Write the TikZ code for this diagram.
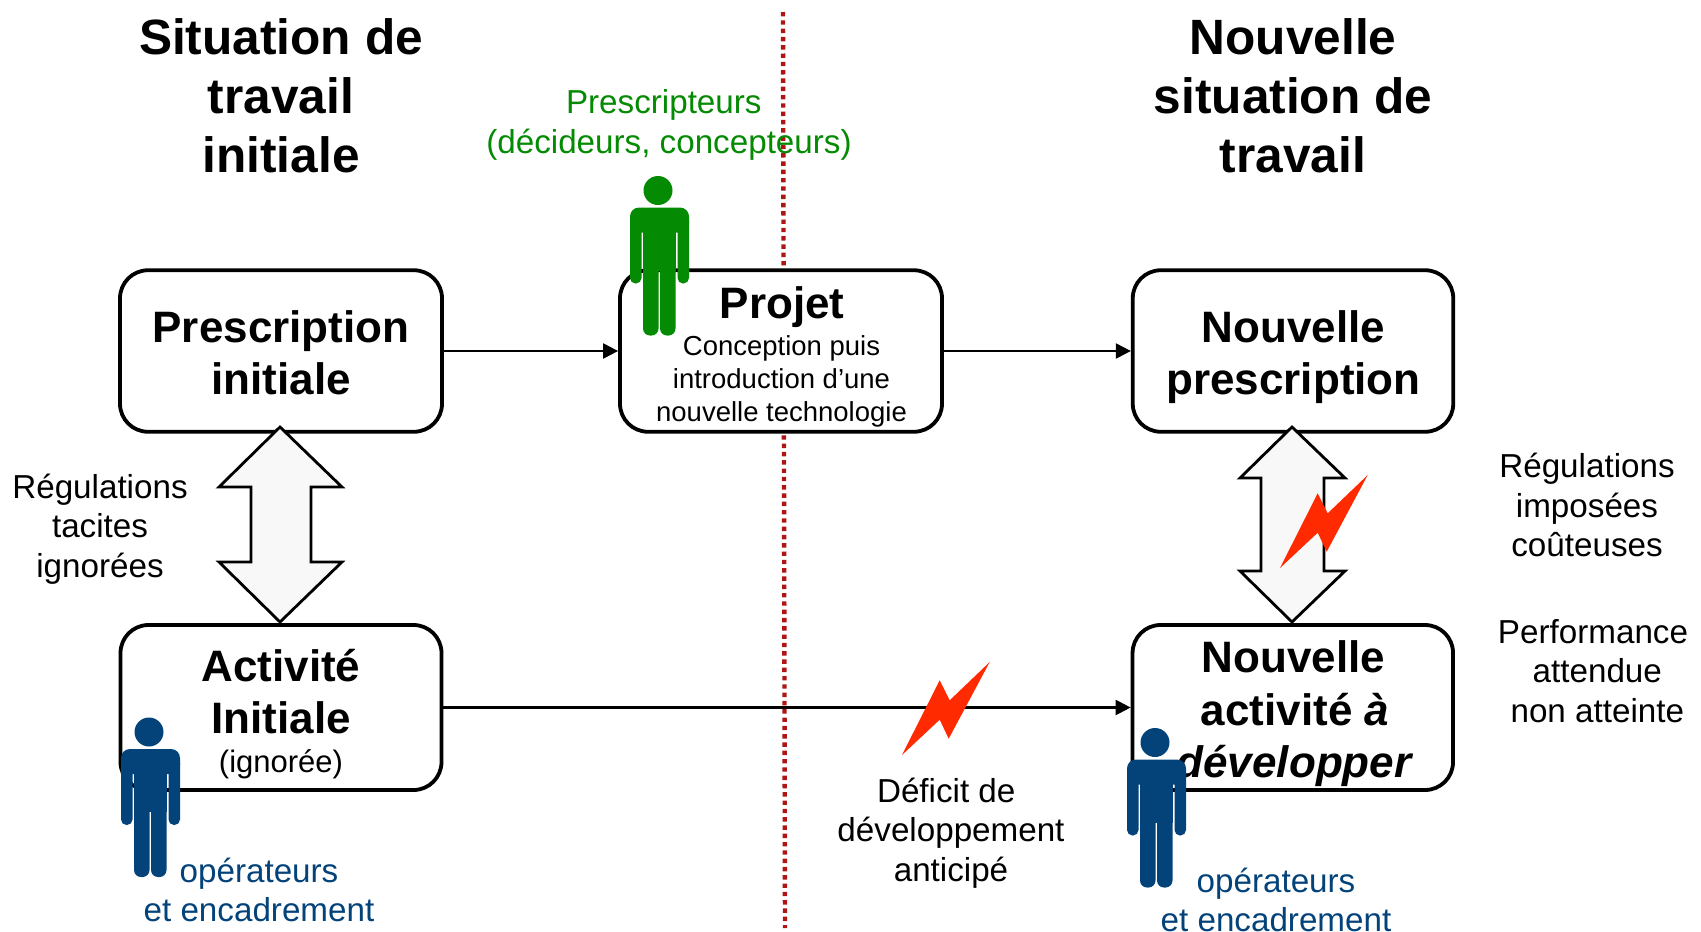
\documentclass[tikz,border=0pt]{standalone}
\usepackage{fontspec}
\setmainfont{Liberation Sans}
\usetikzlibrary{arrows.meta}
\definecolor{greenp}{HTML}{058A04}
\definecolor{bluep}{HTML}{04437A}
\definecolor{redl}{HTML}{FF2A00}
\definecolor{dotred}{HTML}{B01515}
\definecolor{arrowfill}{HTML}{F8F8F8}
\newcommand{\fsz}[2]{\fontsize{#1pt}{#2pt}\selectfont}
\tikzset{
  box/.style={draw=black,line width=3.8pt,fill=white,rounded corners=28pt,inner sep=0pt,align=center},
  boxtitle/.style={inner sep=0pt,align=center,font=\fsz{44}{52}\bfseries},
  link/.style={line width=2.2pt,-{Triangle[length=15pt,width=15pt]}},
  bigarrow/.style={draw=black,line width=2.8pt,fill=arrowfill,miter limit=10},
  titre/.style={align=center,font=\fsz{49.6}{59}\bfseries,inner sep=0pt},
  note/.style={align=center,font=\fsz{33.2}{39.5},inner sep=0pt},
  bolt/.pic={\fill[redl] (87.7,-93) -- (47.7,-54.7) -- (37.7,-74.7) -- (0,0) -- (37.7,-35.3) -- (46.7,-16.3) -- cycle;},
  person/.pic={
    \fill[pic actions] (0,0) circle (14.5);
    \fill[pic actions,rounded corners=9pt] (-28,17) rectangle (31,42);
    \fill[pic actions,rounded corners=5.5pt] (-28,25) rectangle (-16.5,93);
    \fill[pic actions,rounded corners=5.5pt] (19.5,25) rectangle (31,93);
    \fill[pic actions] (-15,25) rectangle (17.5,80);
    \fill[pic actions,rounded corners=7pt] (-15,70) rectangle (0.5,145);
    \fill[pic actions,rounded corners=7pt] (2,70) rectangle (17.5,145);
  }
}
\begin{document}
\begin{tikzpicture}[x=1pt,y=-1pt]
\useasboundingbox (0,0) rectangle (1701,932);
\draw[dotred,line width=4.4pt,dash pattern=on 4.4pt off 3.9pt] (783,12) -- (785,928);

\node[titre] (t1) at (281,96) {Situation de\\travail\\initiale};
\node[titre] (t2) at (1293,96) {Nouvelle\\situation de\\travail};

\node[box,minimum width=322pt,minimum height=161.5pt] (pi) at (281,351) {};
\node[box,minimum width=322pt,minimum height=161.5pt] (pj) at (781,351) {};
\node[box,minimum width=320.5pt,minimum height=161.5pt] (np) at (1293,351) {};
\node[box,minimum width=321pt,minimum height=165pt] (ai) at (281,707.5) {};
\node[box,minimum width=320.5pt,minimum height=165pt] (na) at (1292.8,707.5) {};

\node[boxtitle] (pit) at (281,353) {Prescription\\initiale};
\node[boxtitle] (npt) at (1293.5,357.5) {Nouvelle\\prescription};
\node[boxtitle] (pjt) at (782,307.5) {Projet};
\node[inner sep=0pt,align=center,font=\fsz{27.5}{32.7}] (pjs) at (781.5,381.5) {Conception puis\\introduction d’une\\nouvelle technologie};
\node[boxtitle] (ait) at (281,692) {Activité\\Initiale};
\node[inner sep=0pt,font=\fsz{31}{36}] (ais) at (281,764) {(ignorée)};
\node[boxtitle,font=\fsz{44}{52.5}\bfseries] (nat) at (1295,714) {\hspace{-3pt}Nouvelle\\activité \textit{à}\\\textit{développer}};

\fill[bigarrow] (280,427) -- (342,487) -- (311,487) -- (311,562) -- (342,562) -- (280,622) -- (219,562) -- (251,562) -- (251,487) -- (219,487) -- cycle;
\fill[bigarrow] (1292,427) -- (1345,478) -- (1324,478) -- (1324,571) -- (1345,571) -- (1292,622) -- (1240,571) -- (1261,571) -- (1261,478) -- (1240,478) -- cycle;

\draw[link] (pi.east) -- (pj.west);
\draw[link] (pj.east) -- (np.west);
\draw[link] (ai.east) -- (na.west);

\pic at (902,755) {bolt};
\pic at (1280,568) {bolt};

\pic[fill=greenp] at (658,190.5) {person};
\pic[fill=bluep] at (149,732) {person};
\pic[fill=bluep] at (1155,742.5) {person};

\node[note,text=greenp] (n1) at (669,125) {Prescripteurs\hspace{10.4pt}\mbox{}\\(décideurs, concepteurs)};
\node[note,text=bluep] (n2) at (259,890) {opérateurs\\et encadrement};
\node[note,text=bluep] (n3) at (1276,900) {opérateurs\\et encadrement};
\node[note] (n4) at (100,529) {Régulations\\tacites\\ignorées};
\node[note] (n5) at (1587,505) {Régulations\\imposées\\coûteuses};
\node[note] (n6) at (1593,671) {Performance\\\hspace{8.6pt}attendue\\\hspace{8.6pt}non atteinte};
\node[note] (n7) at (951,833) {Déficit de\hspace{9.5pt}\mbox{}\\développement\\anticipé};
\end{tikzpicture}
\end{document}
